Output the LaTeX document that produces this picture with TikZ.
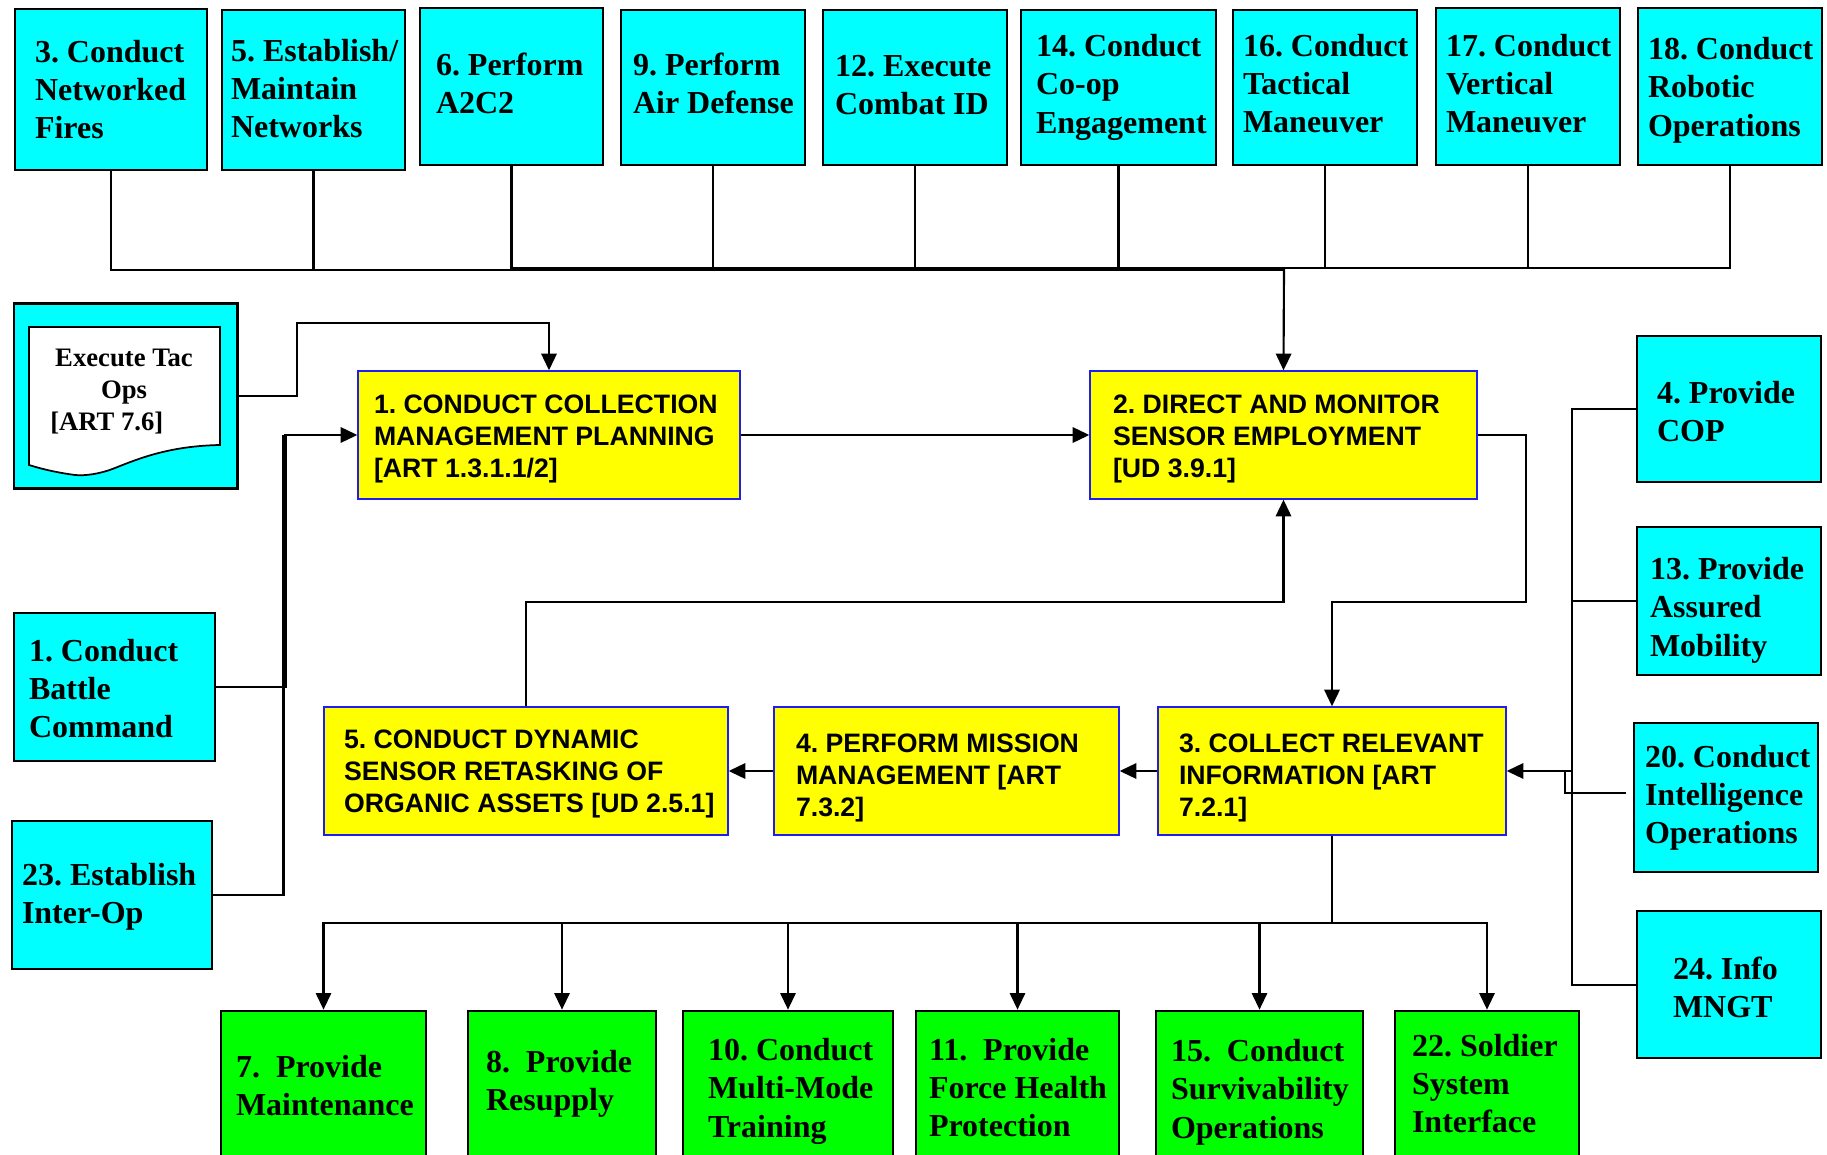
\documentclass[tikz,border=0pt]{standalone}
\usepackage{fontspec}
\setmainfont{Liberation Serif}
\newfontfamily\arialfont{Liberation Sans}
\usetikzlibrary{arrows.meta}
\definecolor{capcyan}{RGB}{0,255,255}
\definecolor{capgreen}{RGB}{0,255,0}
\definecolor{capyellow}{RGB}{255,255,0}
\definecolor{capblue}{RGB}{30,30,240}
\tikzset{
  cyanbox/.style={draw=black,fill=capcyan,line width=2pt,inner sep=0pt,font=\fontsize{24}{28.7}\bfseries\selectfont},
  greenbox/.style={draw=black,fill=capgreen,line width=2pt,inner sep=0pt,font=\fontsize{24}{28.7}\bfseries\selectfont},
  yellowbox/.style={draw=capblue,fill=capyellow,line width=1pt,inner sep=0pt,font=\arialfont\fontsize{20}{24}\bfseries\selectfont},
  doctext/.style={inner sep=0pt,font=\frenchspacing\fontsize{20}{24}\bfseries\selectfont},
  link/.style={draw=black,line width=1.6pt},
  arrowlink/.style={link,-{Triangle[length=12.5pt,width=11.5pt]}},
}
\newcommand\placedtext[3]{\makebox[0pt][l]{\hspace*{#1}\raisebox{#2}[0pt][0pt]{\begin{minipage}[c]{340pt}\raggedright\frenchspacing #3\end{minipage}}}}
\newcommand\capbox[9]{%
  \pgfmathsetlengthmacro\capw{(#5-#3)*0.75}%
  \pgfmathsetlengthmacro\caph{(#6-#4)*0.75}%
  \pgfmathsetlengthmacro\capdx{(#7-(#3+#5)/2)*0.75}%
  \pgfmathsetlengthmacro\capdy{((#4+#6)/2-#8)*0.75-6}%
  \node[#2,minimum width=\capw,minimum height=\caph] (#1) at ({(#3+#5)/2},{(#4+#6)/2}) {\placedtext{\capdx}{\capdy}{#9}};%
}
\begin{document}
\begin{tikzpicture}[x=0.75pt,y=-0.75pt]
\useasboundingbox (0,0) rectangle (1827,1155);
% top row
\capbox{c3}{cyanbox}{15}{9}{207}{170}{35}{90}{3. Conduct\\Networked\\Fires}
\capbox{c5}{cyanbox}{222}{10}{405}{170}{231}{89}{5. Establish/\\Maintain\\Networks}
\capbox{c6}{cyanbox}{420}{8}{603}{165}{436}{84}{6. Perform\\A2C2}
\capbox{c9}{cyanbox}{621}{10}{805}{165}{633}{84}{9. Perform\\Air Defense}
\capbox{c12}{cyanbox}{823}{10}{1007}{165}{835}{85}{12. Execute\\Combat ID}
\capbox{c14}{cyanbox}{1021}{10}{1216}{165}{1036}{87.5}{14. Conduct\\Co-op\\Engagement}
\capbox{c16}{cyanbox}{1233}{10}{1417}{165}{1243}{84}{16. Conduct\\Tactical\\Maneuver}
\capbox{c17}{cyanbox}{1436}{8}{1620}{165}{1446}{84}{17. Conduct\\Vertical\\Maneuver}
\capbox{c18}{cyanbox}{1638}{8}{1822}{165}{1648}{90.5}{18. Conduct\\Robotic\\Operations}
% execute box
\node[draw=black,fill=capcyan,line width=2pt,minimum width=167.5pt,minimum height=139pt,inner sep=0pt] (ex) at (125.5,396) {};
\draw[draw=black,fill=white,line width=1.3pt] (29,327) -- (220,327) -- (220,445)
  .. controls (170,446) and (140,458) .. (115,468)
  .. controls (100,474) and (85,476) .. (75,475)
  .. controls (60,473) and (45,470) .. (29,465) -- cycle;
\node[doctext,align=center,anchor=north] (exa) at (124,349) {Execute Tac\\Ops};
\node[doctext,anchor=north west] (exb) at (50,412) {[ART 7.6]};
% yellow
\capbox{y1}{yellowbox}{358}{371}{740}{499}{374}{438.3}{1. CONDUCT COLLECTION\\MANAGEMENT PLANNING\\{[ART 1.3.1.1/2]}}
\capbox{y2}{yellowbox}{1090}{371}{1477}{499}{1113}{438.3}{2. DIRECT AND MONITOR\\SENSOR EMPLOYMENT\\{[UD 3.9.1]}}
\capbox{y3}{yellowbox}{1158}{707}{1506}{835}{1179}{777}{3. COLLECT RELEVANT\\INFORMATION [ART\\7.2.1]}
\capbox{y4}{yellowbox}{774}{707}{1119}{835}{796}{777}{4. PERFORM MISSION\\MANAGEMENT [ART\\7.3.2]}
\capbox{y5}{yellowbox}{324}{707}{728}{835}{344}{773}{5. CONDUCT DYNAMIC\\SENSOR RETASKING OF\\ORGANIC ASSETS [UD 2.5.1]}
% left
\capbox{c1}{cyanbox}{14}{613}{215}{761}{29}{689}{1. Conduct\\Battle\\Command}
\capbox{c23}{cyanbox}{12}{821}{212}{969}{22}{897}{23. Establish\\Inter-Op}
% right
\capbox{c4}{cyanbox}{1637}{336}{1821}{482}{1657}{412}{4. Provide\\COP}
\capbox{c13}{cyanbox}{1637}{527}{1821}{675}{1650}{610.5}{13. Provide\\Assured\\Mobility}
\capbox{c20}{cyanbox}{1634}{723}{1818}{872}{1645}{798}{20. Conduct\\Intelligence\\Operations}
\capbox{c24}{cyanbox}{1637}{911}{1821}{1058}{1673}{988}{24. Info\\MNGT}
% green
\capbox{g7}{greenbox}{221}{1011}{426}{1160}{236}{1086}{7.~~Provide\\Maintenance}
\capbox{g8}{greenbox}{468}{1011}{656}{1160}{486}{1084.5}{8.~~Provide\\Resupply}
\capbox{g10}{greenbox}{683}{1011}{893}{1160}{708}{1091.5}{10. Conduct\\Multi-Mode\\Training}
\capbox{g11}{greenbox}{916}{1011}{1119}{1160}{929}{1088}{11.~~Provide\\Force Health\\Protection}
\capbox{g15}{greenbox}{1156}{1011}{1363}{1160}{1171}{1092.5}{15.~~Conduct\\Survivability\\Operations}
\capbox{g22}{greenbox}{1395}{1011}{1579}{1160}{1412}{1084}{22. Soldier\\System\\Interface}
% top bus
\coordinate (jl) at (1284,270);
\coordinate (jr) at (1284,268);
\draw[link] (c3.south) |- (jl);
\draw[link] (c5.south) -- (c5.south |- jl);
\draw[link] (c6.south) |- (jr);
\draw[link] (c9.south) -- (c9.south |- jr);
\draw[link] (c12.south) -- (c12.south |- jr);
\draw[link] (c14.south) -- (c14.south |- jr);
\draw[link] (c16.south) -- (c16.south |- jr);
\draw[link] (c17.south) -- (c17.south |- jr);
\draw[link] (c18.south) |- (jr);
\draw[arrowlink] (jr) -- (y2.north);
% execute to y1
\coordinate (ex1) at (297,323);
\draw[arrowlink] (ex.east) -| (ex1) -| (y1.north);
% left lines
\coordinate (bl) at (285.5,435);
\draw[arrowlink] (c1.east) -| (bl) -- (y1.west);
\draw[link] (c23.east) -| (283.5,435);
% main flow
\draw[arrowlink] (y1.east) -- (y2.west);
\coordinate (m1) at (1526,602);
\draw[arrowlink] (y2.east) -| (m1) -| (y3.north);
\draw[arrowlink] (y3.west) -- (y4.east);
\draw[arrowlink] (y4.west) -- (y5.east);
\coordinate (m2) at (1283.5,602);
\draw[arrowlink] (y5.north) |- (m2) -- (y2.south);
% right bus
\coordinate (rb) at (1572,771);
\coordinate (rtop) at (1572,409);
\coordinate (rbot) at (1572,985);
\draw[link] (c4.west |- rtop) -- (rtop) -- (rbot) -- (c24.west |- rbot);
\draw[link] (c13.west) -- (c13.west -| rb);
\draw[arrowlink] (rb) -- (rb -| y3.east);
\coordinate (i20) at (1626,793);
\coordinate (i20b) at (1565,793);
\coordinate (i20c) at (1565,771);
\draw[link,line width=1.1pt] (i20) -- (i20b) -- (i20c);
% lower bus
\coordinate (lb) at (1332,923);
\draw[link] (y3.south) -- (lb);
\draw[arrowlink] (lb) -| (g7.north);
\draw[arrowlink] (lb) -| (g8.north);
\draw[arrowlink] (lb) -| (g10.north);
\draw[arrowlink] (lb) -| (g11.north);
\draw[arrowlink] (lb) -| (g15.north);
\draw[arrowlink] (lb) -| (g22.north);
\end{tikzpicture}
\end{document}
